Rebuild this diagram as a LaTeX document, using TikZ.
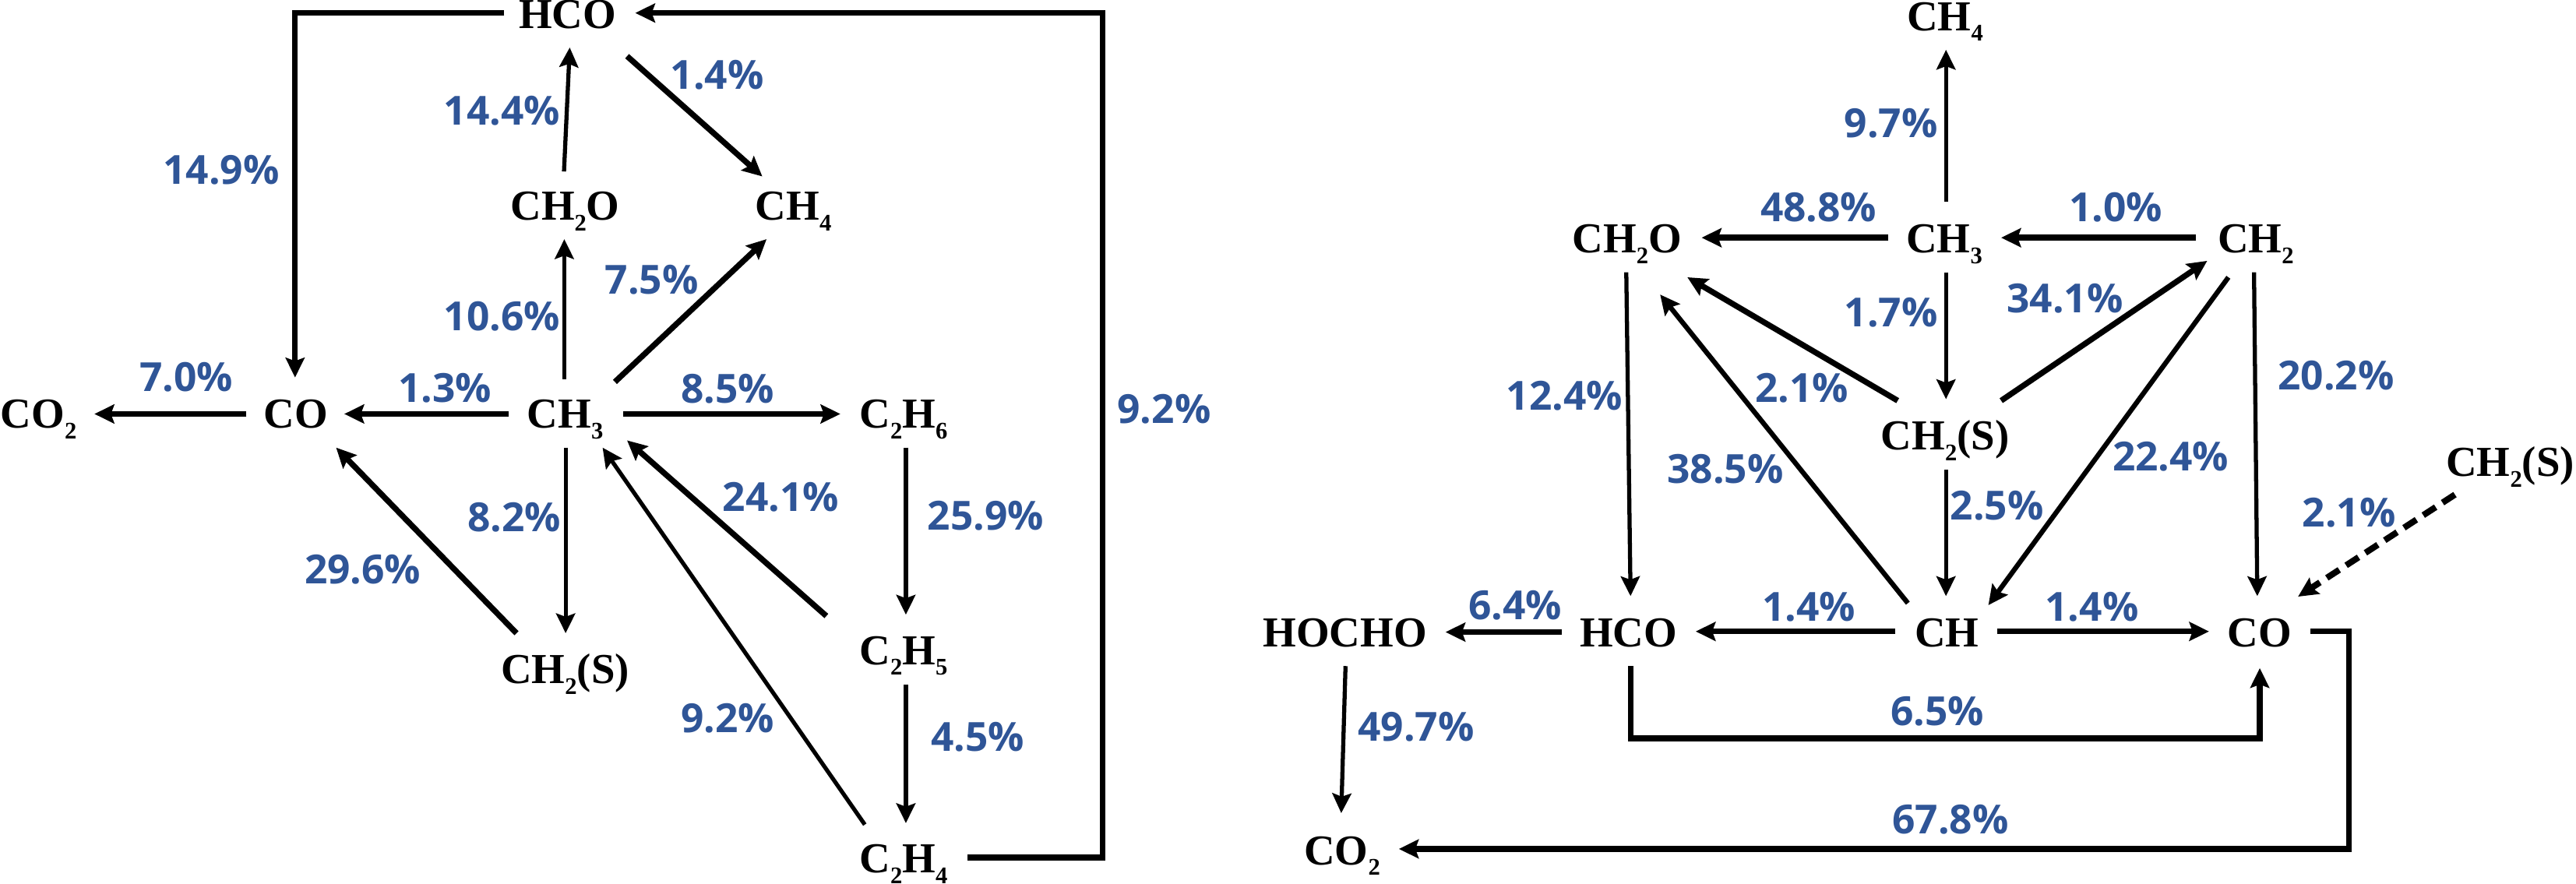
\documentclass[tikz,border=0pt]{standalone}
\usepackage{fontspec}
\setmainfont{Liberation Serif}
\newfontfamily\lblfont{Open Sans}
\usetikzlibrary{arrows.meta,calc}
\definecolor{lblblue}{RGB}{47,85,151}
\newcommand{\chsub}[1]{\raisebox{-6.5pt}{\fontsize{14.5pt}{15pt}\selectfont #1}}
\begin{document}
\begin{tikzpicture}[x=1pt,y=-1pt,
  sp/.style={font=\fontsize{26pt}{28pt}\selectfont\bfseries, anchor=base, inner sep=0pt},
  lbl/.style={font=\lblfont\fontsize{24.4pt}{26pt}\selectfont\bfseries, text=lblblue, inner sep=0pt, text height=17.4pt, text depth=0pt, anchor=center},
  tip/.style={-{Stealth[length=12pt,width=11.5pt,inset=2pt]}},
  thk/.style={tip, line width=3.5pt},
  mid/.style={tip, line width=3pt},
  thn/.style={tip, line width=2.5pt},
  dsh/.style={tip, line width=3.8pt, dash pattern=on 9pt off 5pt}]
\useasboundingbox (0,0) rectangle (1568,538);

% ---------- left network ----------
\node[sp] (HCOl)  at (345.5,17.5) {HCO};
\node[sp] (CH2Ol) at (344,134) {CH\chsub{2}O};
\node[sp] (CH4l)  at (483,134) {CH\chsub{4}};
\node[sp] (CO2l)  at (23.5,260.5) {CO\chsub{2}};
\node[sp] (COl)   at (180,260.5) {CO};
\node[sp] (CH3l)  at (344,260.5) {CH\chsub{3}};
\node[sp] (C2H6)  at (550,260.5) {C\chsub{2}H\chsub{6}};
\node[sp] (CH2Sl) at (344,416) {CH\chsub{2}(S)};
\node[sp] (C2H5)  at (550,404.5) {C\chsub{2}H\chsub{5}};
\node[sp] (C2H4)  at (550,531.5) {C\chsub{2}H\chsub{4}};

\draw[thk] ($(COl.base)+(-30,-8.5)$) -- ($(CO2l.base)+(34,-8.5)$);
\draw[thk] ($(CH3l.base)+(-34.6,-8.5)$) -- ($(COl.base)+(29.6,-8.5)$);
\draw[thk] ($(CH3l.base)+(35.2,-8.5)$) -- ($(C2H6.base)+(-38.5,-8.5)$);
\draw[thn] ($(CH3l.base)+(-0.5,-29.8)$) -- ($(CH2Ol.base)+(-0.5,11.6)$);
\draw[thn] ($(CH2Ol.base)+(-0.7,-29.6)$) -- ($(HCOl.base)+(1.3,11.4)$);
\draw[thk] ($(HCOl.base)+(36.2,16.7)$) -- ($(CH4l.base)+(-19,-26.6)$);
\draw[thk] ($(CH3l.base)+(30.3,-28)$) -- ($(CH4l.base)+(-16.4,11.6)$);
\draw[thk] ($(HCOl.base)+(-38.6,-9.6)$) -| ($(COl.base)+(-0.4,-30.7)$);
\draw[thk] ($(C2H4.base)+(38.8,-9.5)$) -- ++(82.4,0) |- ($(HCOl.base)+(41.2,-9.6)$);
\draw[thn] ($(CH3l.base)+(0.3,12)$) -- ($(CH2Sl.base)+(0.3,-30.5)$);
\draw[thk] ($(CH2Sl.base)+(-29.6,-30.5)$) -- ($(COl.base)+(24.6,12)$);
\draw[thk] ($(C2H5.base)+(-47,-29.5)$) -- ($(CH3l.base)+(37.7,7.6)$);
\draw[thn] ($(C2H4.base)+(-23.6,-29.5)$) -- ($(CH3l.base)+(22.8,12)$);
\draw[thn] ($(C2H6.base)+(1.4,12)$) -- ($(C2H5.base)+(1.4,-30.3)$);
\draw[thn] ($(C2H5.base)+(1.4,12.3)$) -- ($(C2H4.base)+(1.4,-30.4)$);

\node[lbl] (l1)  at (134.7,103.5) {14.9\%};
\node[lbl] (l2)  at (305.6,67.5) {14.4\%};
\node[lbl] (l3)  at (436.6,45.6) {1.4\%};
\node[lbl] (l4)  at (396.7,170.2) {7.5\%};
\node[lbl] (l5)  at (305.6,192.5) {10.6\%};
\node[lbl] (l6)  at (113.5,229.4) {7.0\%};
\node[lbl] (l7)  at (270.7,236.4) {1.3\%};
\node[lbl] (l8)  at (443,236.6) {8.5\%};
\node[lbl] (l9)  at (708.6,249.1) {9.2\%};
\node[lbl] (l10) at (475.3,302.5) {24.1\%};
\node[lbl] (l11) at (313.1,314.7) {8.2\%};
\node[lbl] (l12) at (600,313.8) {25.9\%};
\node[lbl] (l13) at (220.8,346.8) {29.6\%};
\node[lbl] (l14) at (442.9,437.2) {9.2\%};
\node[lbl] (l15) at (595.1,448.5) {4.5\%};

% ---------- right network ----------
\node[sp] (CH4r)  at (1184,18.5) {CH\chsub{4}};
\node[sp] (CH2Or) at (990.4,154) {CH\chsub{2}O};
\node[sp] (CH3r)  at (1183.5,154) {CH\chsub{3}};
\node[sp] (CH2r)  at (1373,154) {CH\chsub{2}};
\node[sp] (CH2Sm) at (1184,274) {CH\chsub{2}(S)};
\node[sp] (CH2Sr) at (1528,290) {CH\chsub{2}(S)};
\node[sp] (HOCHO) at (818.7,394) {HOCHO};
\node[sp] (HCOr)  at (991.2,394) {HCO};
\node[sp] (CHr)   at (1185,394) {CH};
\node[sp] (COr)   at (1375.3,394) {CO};
\node[sp] (CO2r)  at (817,526.3) {CO\chsub{2}};

\draw[thn] ($(CH3r.base)+(1,-31.2)$) -- ($(CH4r.base)+(0.5,11.8)$);
\draw[thk] ($(CH3r.base)+(-34.1,-9.3)$) -- ($(CH2Or.base)+(45.4,-9.3)$);
\draw[thk] ($(CH2r.base)+(-36.2,-9.3)$) -- ($(CH3r.base)+(34.6,-9.3)$);
\draw[thn] ($(CH3r.base)+(1,11.8)$) -- ($(CH2Sm.base)+(0.5,-31)$);
\draw[thk] ($(CH2Sm.base)+(-28.9,-30.1)$) -- ($(CH2Or.base)+(36.7,14.8)$);
\draw[thk] ($(CH2Sm.base)+(34.1,-30.1)$) -- ($(CH2r.base)+(-29.5,4.8)$);
\draw[thn] ($(CH2Or.base)+(-0.5,11.8)$) -- ($(HCOr.base)+(1.3,-31.1)$);
\draw[mid] ($(CHr.base)+(-23.7,-26.8)$) -- ($(CH2Or.base)+(20.1,25.3)$);
\draw[mid] ($(CH2r.base)+(-16.6,14.8)$) -- ($(CHr.base)+(25.3,-25.6)$);
\draw[thn] ($(CH2Sm.base)+(0.5,12)$) -- ($(CHr.base)+(-0.5,-31.1)$);
\draw[thn] ($(CH2r.base)+(-1,11.8)$) -- ($(COr.base)+(-1.3,-31.1)$);
\draw[dsh] ($(CH2Sr.base)+(-33.7,11.1)$) -- ($(COr.base)+(23.5,-30.8)$);
\draw[thk] ($(HCOr.base)+(-40.6,-9.2)$) -- ($(HOCHO.base)+(61.2,-9.2)$);
\draw[thk] ($(CHr.base)+(-31.4,-9.6)$) -- ($(HCOr.base)+(41,-9.6)$);
\draw[thk] ($(CHr.base)+(30.5,-9.6)$) -- ($(COr.base)+(-30.7,-9.6)$);
\draw[thk] ($(HCOr.base)+(1.3,11.5)$) -- ++(0,44) -| ($(COr.base)+(0.2,12.7)$);
\draw[thk] ($(COr.base)+(31.2,-9.7)$) -- ++(23.2,0) |- ($(CO2r.base)+(34.5,-9.5)$);
\draw[thn] ($(HOCHO.base)+(0.3,11.5)$) -- ($(CO2r.base)+(-0.6,-31.3)$);

\node[lbl] (r1)  at (1151,75) {9.7\%};
\node[lbl] (r2)  at (1107,126.3) {48.8\%};
\node[lbl] (r3)  at (1287.8,126.3) {1.0\%};
\node[lbl] (r4)  at (1151,190.4) {1.7\%};
\node[lbl] (r5)  at (1256.9,181.6) {34.1\%};
\node[lbl] (r6)  at (1422,228.5) {20.2\%};
\node[lbl] (r7)  at (952.2,240.8) {12.4\%};
\node[lbl] (r8)  at (1096.8,236) {2.1\%};
\node[lbl] (r9)  at (1050.2,285.5) {38.5\%};
\node[lbl] (r10) at (1321.3,277.7) {22.4\%};
\node[lbl] (r11) at (1215.5,307.7) {2.5\%};
\node[lbl] (r12) at (1429.8,312) {2.1\%};
\node[lbl] (r13) at (922.2,368.5) {6.4\%};
\node[lbl] (r14) at (1100.9,369.4) {1.4\%};
\node[lbl] (r15) at (1273.3,369.4) {1.4\%};
\node[lbl] (r16) at (1179.4,432.8) {6.5\%};
\node[lbl] (r17) at (861.9,442.4) {49.7\%};
\node[lbl] (r18) at (1187.2,499) {67.8\%};
\end{tikzpicture}
\end{document}
